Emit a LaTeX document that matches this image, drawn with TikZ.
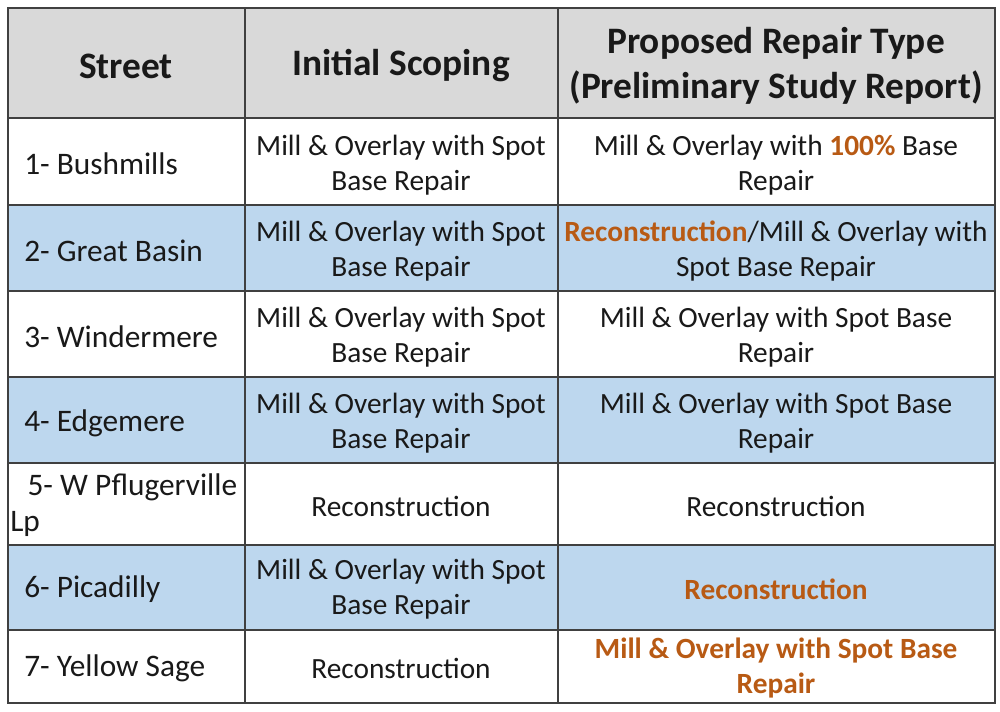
\documentclass[tikz,border=0pt]{standalone}
\usepackage{fontspec}
\setmainfont{Carlito}
\definecolor{hdr}{HTML}{D9D9D9}
\definecolor{blu}{HTML}{BDD7EE}
\definecolor{org}{HTML}{B85A14}
\newcommand{\og}[1]{\textcolor{org}{\bfseries #1}}
\begin{document}
\begin{tikzpicture}[x=0.75pt,y=-0.75pt,
  body/.style={font=\fontsize{22}{26.5}\selectfont,align=center,inner sep=0pt,text=black!90},
  head/.style={font=\fontsize{28}{34}\selectfont\bfseries,align=center,inner sep=0pt,text=black!90},
  left/.style={body,anchor=west,align=left,font=\fontsize{23.5}{27}\selectfont}]
\useasboundingbox (0,0) rectangle (1000,711);
\fill[white] (0,0) rectangle (1000,711);
\fill[hdr] (8,8) rectangle (995,118);
\foreach \a/\b in {205/291,377/463,545/630} \fill[blu] (8,\a) rectangle (995,\b);
\draw[line width=1pt, black!75] (8,8) rectangle (995,703);
\foreach \y in {118,205,291,377,463,545,630} \draw[line width=1pt,black!75] (8,\y) -- (995,\y);
\foreach \x in {245,558} \draw[line width=1pt,black!75] (\x,8) -- (\x,703);
\node[head] (h1) at (126,66) {Street};
\node[head] (h2) at (401,66) {Initial Scoping};
\node[head] (h3) at (776,66) {Proposed Repair Type\\(Preliminary Study Report)};
\node[left] (s1) at (24,164) {1- Bushmills};
\node[left] (s2) at (24,251) {2- Great Basin};
\node[left] (s3) at (24,337) {3- Windermere};
\node[left] (s4) at (24,423) {4- Edgemere};
\node[left] (s5) at (10,505) {\hspace{13pt}5- W Pflugerville\\Lp};
\node[left] (s6) at (24,589) {6- Picadilly};
\node[left] (s7) at (24,668) {7- Yellow Sage};
\node[body] (i1) at (401,165) {Mill \& Overlay with Spot\\Base Repair};
\node[body] (i2) at (401,251) {Mill \& Overlay with Spot\\Base Repair};
\node[body] (i3) at (401,337) {Mill \& Overlay with Spot\\Base Repair};
\node[body] (i4) at (401,423) {Mill \& Overlay with Spot\\Base Repair};
\node[body] (i5) at (401,506) {Reconstruction};
\node[body] (i6) at (401,589) {Mill \& Overlay with Spot\\Base Repair};
\node[body] (i7) at (401,668) {Reconstruction};
\node[body] (p1) at (776,165) {Mill \& Overlay with \og{100\%} Base\\Repair};
\node[body] (p2) at (776,251) {\og{Reconstruction}/Mill \& Overlay with\\Spot Base Repair};
\node[body] (p3) at (776,337) {Mill \& Overlay with Spot Base\\Repair};
\node[body] (p4) at (776,423) {Mill \& Overlay with Spot Base\\Repair};
\node[body] (p5) at (776,506) {Reconstruction};
\node[body] (p6) at (776,589) {\og{Reconstruction}};
\node[body] (p7) at (776,668) {\og{Mill \& Overlay with Spot Base}\\\og{Repair}};
\end{tikzpicture}
\end{document}
